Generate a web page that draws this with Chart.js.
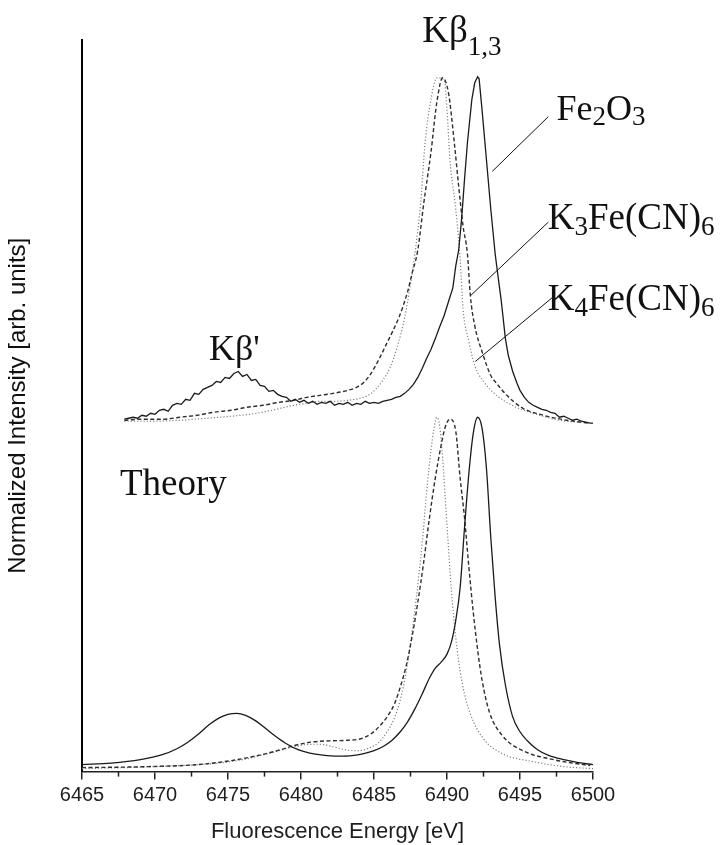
<!DOCTYPE html>
<html>
<head>
<meta charset="utf-8">
<script src="https://cdn.jsdelivr.net/npm/chart.js@4/dist/chart.umd.min.js"></script>
<style>
  html, body { margin: 0; padding: 0; background: #fff; }
  #chart { display: block; }
</style>
</head>
<body>
<canvas id="chart" width="728" height="845"></canvas>
<script>
// x axis
const xTicks = [6465, 6470, 6475, 6480, 6485, 6490, 6495, 6500];

// experiment (upper traces)
const expFeE = [6467.9, 6468.2, 6468.5, 6468.8, 6469.1, 6469.4, 6469.7, 6470.0, 6470.3, 6470.6, 6470.9, 6471.2, 6471.5, 6471.8, 6472.1, 6472.4, 6472.7, 6473.0, 6473.3, 6473.6, 6473.9, 6474.2, 6474.5, 6474.8, 6475.1, 6475.4, 6475.7, 6476.0, 6476.3, 6476.6, 6476.9, 6477.2, 6477.5, 6477.8, 6478.1, 6478.4, 6478.7, 6479.0, 6479.3, 6479.6, 6479.9, 6480.2, 6480.5, 6480.8, 6481.1, 6481.4, 6481.7, 6482.0, 6482.3, 6482.6, 6482.9, 6483.2, 6483.5, 6483.8, 6484.1, 6484.4, 6484.7, 6485.0, 6485.3, 6485.6, 6485.9, 6486.2, 6486.5, 6486.8, 6487.1, 6487.4, 6487.7, 6488.0, 6488.3, 6488.6, 6488.9, 6489.2, 6489.5, 6489.8, 6490.1, 6490.4, 6490.6, 6490.8, 6491.0, 6491.2, 6491.4, 6491.7, 6491.9, 6492.1, 6492.2, 6492.4, 6492.7, 6493.0, 6493.3, 6493.5, 6493.7, 6494.0, 6494.2, 6494.5, 6494.8, 6495.0, 6495.3, 6495.6, 6495.9, 6496.2, 6496.5, 6496.8, 6497.1, 6497.4, 6497.7, 6498.0, 6498.3, 6498.6, 6498.9, 6499.2, 6499.5, 6499.8, 6500];
const expFeI = [3.54, 3.55, 3.56, 3.55, 3.58, 3.57, 3.60, 3.59, 3.63, 3.64, 3.62, 3.68, 3.70, 3.69, 3.74, 3.73, 3.80, 3.79, 3.84, 3.86, 3.88, 3.92, 3.91, 3.96, 3.95, 4.00, 4.02, 3.97, 3.99, 3.93, 3.94, 3.88, 3.87, 3.82, 3.83, 3.79, 3.77, 3.76, 3.72, 3.74, 3.71, 3.73, 3.70, 3.72, 3.69, 3.71, 3.70, 3.72, 3.68, 3.70, 3.69, 3.71, 3.68, 3.70, 3.69, 3.72, 3.70, 3.71, 3.70, 3.72, 3.73, 3.74, 3.76, 3.77, 3.80, 3.84, 3.89, 3.96, 4.05, 4.15, 4.24, 4.35, 4.47, 4.58, 4.72, 4.86, 5.08, 5.24, 5.55, 5.95, 6.32, 6.75, 6.92, 6.98, 6.96, 6.65, 6.15, 5.65, 5.20, 4.97, 4.75, 4.35, 4.18, 4.02, 3.90, 3.83, 3.76, 3.71, 3.68, 3.66, 3.64, 3.63, 3.61, 3.60, 3.56, 3.57, 3.55, 3.53, 3.54, 3.52, 3.51, 3.50, 3.50];

const expK3E = [6467.9, 6469.0, 6470.6, 6471.7, 6472.9, 6474.0, 6475.2, 6476.3, 6477.4, 6478.5, 6479.5, 6480.4, 6481.3, 6482.2, 6483.2, 6483.8, 6484.3, 6484.7, 6485.0, 6485.4, 6485.8, 6486.3, 6486.7, 6487.0, 6487.3, 6487.6, 6488.0, 6488.4, 6488.9, 6489.3, 6489.7, 6490.1, 6490.5, 6490.8, 6491.1, 6491.4, 6491.6, 6491.9, 6492.4, 6493.0, 6493.4, 6494.1, 6495.2, 6496.6, 6498.2, 6499.8];
const expK3I = [3.53, 3.54, 3.54, 3.56, 3.58, 3.61, 3.63, 3.66, 3.68, 3.71, 3.73, 3.76, 3.78, 3.80, 3.83, 3.86, 3.91, 3.98, 4.05, 4.16, 4.28, 4.43, 4.56, 4.68, 4.82, 5.00, 5.24, 5.70, 6.22, 6.72, 6.97, 6.82, 6.32, 5.88, 5.48, 5.20, 4.78, 4.48, 4.22, 3.98, 3.90, 3.78, 3.65, 3.58, 3.53, 3.50];

const expK4E = [6467.9, 6469.5, 6471.7, 6473.5, 6475.2, 6476.5, 6477.7, 6478.6, 6479.5, 6480.4, 6481.3, 6482.2, 6483.2, 6484.0, 6484.6, 6485.1, 6485.6, 6486.1, 6486.6, 6487.1, 6487.5, 6487.8, 6488.2, 6488.5, 6488.9, 6489.3, 6489.8, 6490.0, 6490.2, 6490.6, 6490.9, 6491.1, 6491.5, 6491.9, 6492.5, 6493.4, 6494.6, 6495.9, 6497.7, 6499.0];
const expK4I = [3.52, 3.52, 3.53, 3.55, 3.57, 3.59, 3.62, 3.65, 3.68, 3.70, 3.72, 3.72, 3.73, 3.75, 3.78, 3.84, 3.93, 4.06, 4.27, 4.56, 4.90, 5.20, 5.72, 6.32, 6.75, 6.97, 6.95, 6.65, 6.15, 5.65, 5.15, 4.65, 4.32, 4.08, 3.92, 3.78, 3.67, 3.60, 3.53, 3.51];

// theory (lower traces)
const thFeE = [6465, 6467, 6469, 6470.5, 6471.5, 6472.3, 6473.0, 6473.7, 6474.4, 6475.0, 6475.6, 6476.2, 6476.9, 6477.6, 6478.3, 6479.0, 6479.8, 6480.6, 6481.5, 6482.5, 6483.5, 6484.3, 6485.0, 6485.6, 6486.2, 6486.8, 6487.3, 6487.8, 6488.3, 6488.8, 6489.2, 6489.6, 6490.0, 6490.3, 6490.6, 6490.9, 6491.2, 6491.5, 6491.8, 6492.1, 6492.4, 6492.7, 6493.0, 6493.3, 6493.6, 6494.0, 6494.5, 6495.0, 6495.5, 6496.2, 6497.0, 6498.0, 6499.0, 6500];
const thFeI = [0.07, 0.085, 0.12, 0.17, 0.23, 0.30, 0.38, 0.47, 0.54, 0.575, 0.585, 0.565, 0.51, 0.43, 0.35, 0.28, 0.22, 0.185, 0.165, 0.155, 0.16, 0.18, 0.21, 0.25, 0.31, 0.40, 0.50, 0.63, 0.78, 0.94, 1.04, 1.10, 1.18, 1.30, 1.52, 1.85, 2.45, 3.00, 3.40, 3.56, 3.45, 3.05, 2.35, 1.75, 1.27, 0.87, 0.55, 0.40, 0.31, 0.22, 0.16, 0.12, 0.09, 0.07];

const thK3E = [6465, 6469.5, 6472.9, 6475.2, 6477.0, 6478.6, 6479.5, 6480.4, 6481.3, 6482.2, 6483.2, 6484.1, 6484.8, 6485.4, 6485.9, 6486.4, 6486.8, 6487.2, 6487.6, 6488.0, 6488.4, 6488.8, 6489.2, 6489.6, 6489.9, 6490.2, 6490.6, 6490.9, 6491.2, 6491.5, 6491.8, 6492.1, 6492.4, 6492.9, 6493.8, 6495.2, 6497.3, 6499.8];
const thK3I = [0.04, 0.05, 0.07, 0.11, 0.16, 0.22, 0.26, 0.29, 0.305, 0.31, 0.315, 0.33, 0.38, 0.46, 0.55, 0.68, 0.85, 1.06, 1.35, 1.70, 2.10, 2.55, 2.95, 3.28, 3.47, 3.54, 3.42, 2.95, 2.55, 2.05, 1.60, 1.22, 0.92, 0.60, 0.36, 0.21, 0.12, 0.06];

const thK4E = [6465, 6470, 6475.2, 6477.5, 6479.0, 6480.3, 6481.2, 6482.2, 6483.2, 6484.0, 6484.7, 6485.3, 6485.9, 6486.4, 6486.8, 6487.2, 6487.6, 6487.9, 6488.3, 6488.6, 6488.9, 6489.1, 6489.3, 6489.5, 6489.7, 6489.9, 6490.1, 6490.3, 6490.6, 6491.0, 6491.6, 6492.5, 6493.8, 6495.9, 6498.0, 6500];
const thK4I = [0.03, 0.05, 0.10, 0.17, 0.23, 0.27, 0.275, 0.25, 0.215, 0.21, 0.24, 0.29, 0.40, 0.54, 0.72, 1.00, 1.40, 1.75, 2.30, 2.80, 3.22, 3.44, 3.56, 3.47, 3.15, 2.70, 2.25, 1.82, 1.35, 0.92, 0.58, 0.33, 0.18, 0.10, 0.05, 0.03];

function pts(e, v) {
  return e.map((x, i) => ({ x: x, y: v[i] }));
}

const SOLID = { borderColor: "#1a1a1a", borderWidth: 1.3 };
const DASH = { borderColor: "#2e2e2e", borderWidth: 1.4, borderDash: [4, 2.5] };
const DOT = { borderColor: "#808080", borderWidth: 1.2, borderDash: [1.2, 2] };

const serif = "'Liberation Serif', 'Times New Roman', serif";
const sans = "'Liberation Sans', Arial, sans-serif";

// text runs: [text, isSubscript]
const labels = [
  { x: 6488.3, y: 7.33, size: 37, drop: 0.34, runs: [["Kβ", false], ["1,3", true]] },
  { x: 6497.5, y: 6.55, size: 36, drop: 0.16, runs: [["Fe", false], ["2", true], ["O", false], ["3", true]] },
  { x: 6496.9, y: 5.45, size: 37, drop: 0.16, runs: [["K", false], ["3", true], ["Fe(CN)", false], ["6", true]] },
  { x: 6496.9, y: 4.64, size: 37, drop: 0.16, runs: [["K", false], ["4", true], ["Fe(CN)", false], ["6", true]] },
  { x: 6473.7, y: 4.14, size: 36, drop: 0, runs: [["Kβ'", false]] },
  { x: 6467.6, y: 2.78, size: 37, drop: 0, runs: [["Theory", false]] }
];
const leaders = [
  [6496.94, 6.58, 6493.10, 6.03],
  [6496.94, 5.52, 6491.60, 4.78],
  [6497.28, 4.77, 6491.94, 4.12]
];

const annotate = {
  id: "annotate",
  afterDatasetsDraw(chart) {
    const ctx = chart.ctx;
    const xs = chart.scales.x, ys = chart.scales.y;
    ctx.save();
    // minor ticks at the half steps
    ctx.strokeStyle = "#222";
    ctx.lineWidth = 1.5;
    for (let i = 0; i < xTicks.length - 1; i++) {
      const px = xs.getPixelForValue(xTicks[i] + 2.5);
      ctx.beginPath();
      ctx.moveTo(px, ys.bottom);
      ctx.lineTo(px, ys.bottom + 5);
      ctx.stroke();
    }
    // leader lines
    ctx.lineWidth = 1;
    ctx.strokeStyle = "#111";
    leaders.forEach(l => {
      ctx.beginPath();
      ctx.moveTo(xs.getPixelForValue(l[0]), ys.getPixelForValue(l[1]));
      ctx.lineTo(xs.getPixelForValue(l[2]), ys.getPixelForValue(l[3]));
      ctx.stroke();
    });
    // text labels
    ctx.fillStyle = "#111";
    ctx.textBaseline = "alphabetic";
    ctx.textAlign = "left";
    labels.forEach(lb => {
      let px = xs.getPixelForValue(lb.x);
      const py = ys.getPixelForValue(lb.y);
      lb.runs.forEach(r => {
        const sz = r[1] ? Math.round(lb.size * 0.74) : lb.size;
        ctx.font = sz + "px " + serif;
        ctx.fillText(r[0], px, py + (r[1] ? lb.size * lb.drop : 0));
        px += ctx.measureText(r[0]).width;
      });
    });
    ctx.restore();
  }
};

new Chart(document.getElementById("chart").getContext("2d"), {
  type: "line",
  data: {
    datasets: [
      Object.assign({ label: "Fe2O3 exp", data: pts(expFeE, expFeI), tension: 0 }, SOLID),
      Object.assign({ label: "K3Fe(CN)6 exp", data: pts(expK3E, expK3I), cubicInterpolationMode: "monotone" }, DASH),
      Object.assign({ label: "K4Fe(CN)6 exp", data: pts(expK4E, expK4I), cubicInterpolationMode: "monotone" }, DOT),
      Object.assign({ label: "Fe2O3 theory", data: pts(thFeE, thFeI), cubicInterpolationMode: "monotone" }, SOLID),
      Object.assign({ label: "K3Fe(CN)6 theory", data: pts(thK3E, thK3I), cubicInterpolationMode: "monotone" }, DASH),
      Object.assign({ label: "K4Fe(CN)6 theory", data: pts(thK4E, thK4I), cubicInterpolationMode: "monotone" }, DOT)
    ]
  },
  options: {
    responsive: false,
    animation: false,
    elements: { point: { radius: 0 }, line: { fill: false } },
    layout: { padding: { left: 0, right: 135, top: 40, bottom: 0 } },
    plugins: { legend: { display: false }, tooltip: { enabled: false } },
    scales: {
      x: {
        type: "linear",
        min: 6465,
        max: 6500,
        afterBuildTicks: axis => { axis.ticks = xTicks.map(v => ({ value: v })); },
        ticks: { color: "#1e1e1e", font: { family: sans, size: 20 }, padding: 4, maxRotation: 0, autoSkip: false, callback: v => String(v) },
        grid: { drawOnChartArea: false, drawTicks: true, tickLength: 8, color: "#222", lineWidth: 1.5 },
        border: { display: true, color: "#222", width: 1.5 },
        title: { display: true, text: "Fluorescence Energy [eV]", color: "#1e1e1e", font: { family: sans, size: 22 }, padding: { top: 7, bottom: 0 } }
      },
      y: {
        min: 0,
        max: 7.35,
        ticks: { display: false },
        grid: { drawOnChartArea: false, drawTicks: false },
        border: { display: true, color: "#000", width: 2 },
        title: { display: true, text: "Normalized Intensity [arb. units]", color: "#111", font: { family: sans, size: 24 }, padding: { top: 4, bottom: 49.2 } }
      }
    }
  },
  plugins: [annotate]
});
</script>
</body>
</html>
